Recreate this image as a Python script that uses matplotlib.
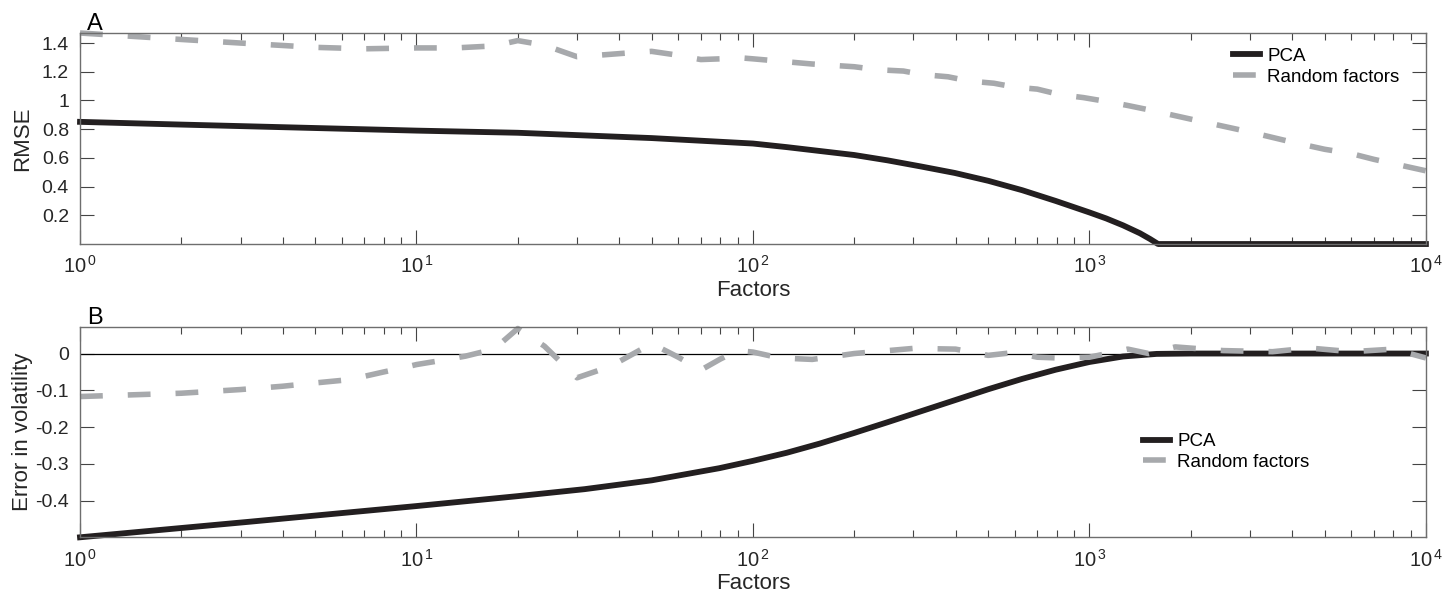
import numpy as np
import matplotlib.pyplot as plt
from matplotlib.ticker import FuncFormatter

# Panel A: RMSE vs number of factors
rmse_pca_x = [1, 2, 5, 10, 20, 50, 100, 126, 158, 200, 251, 316, 398, 501, 631,
              794, 1000, 1122, 1259, 1413, 1514, 1600, 10000]
rmse_pca = [0.851, 0.832, 0.808, 0.79, 0.775, 0.738, 0.70, 0.675, 0.648, 0.62,
            0.583, 0.54, 0.495, 0.44, 0.375, 0.30, 0.22, 0.178, 0.13, 0.075,
            0.035, 0.0, 0.0]

rmse_rand_x = [1, 2, 3, 5, 7, 10, 13, 17, 20, 24, 30, 36, 42, 50, 58, 70, 80, 93,
               100, 150, 200, 235, 280, 320, 380, 440, 520, 600, 700, 820, 960,
               1130, 1300, 1500, 2000, 3000, 4000, 5000, 6000, 7000, 8000, 10000]
rmse_rand = [1.47, 1.425, 1.40, 1.37, 1.36, 1.366, 1.366, 1.38, 1.417, 1.385,
             1.305, 1.318, 1.33, 1.342, 1.32, 1.285, 1.29, 1.296, 1.29, 1.254,
             1.235, 1.214, 1.205, 1.18, 1.165, 1.135, 1.12, 1.093, 1.079, 1.04,
             1.02, 0.992, 0.965, 0.935, 0.87, 0.78, 0.71, 0.66, 0.63, 0.59,
             0.56, 0.51]

# Panel B: error in volatility vs number of factors
vol_pca_x = [1, 3.16, 10, 20, 31.6, 50, 79.4, 100, 126, 158, 200, 251, 316, 398,
             501, 631, 794, 1000, 1259, 1585, 2000, 10000]
vol_pca = [-0.50, -0.458, -0.415, -0.388, -0.369, -0.345, -0.312, -0.292, -0.27,
           -0.245, -0.216, -0.187, -0.157, -0.127, -0.097, -0.069, -0.044,
           -0.023, -0.008, -0.001, 0.0, 0.0]

vol_rand_x = [1, 2, 3, 4, 5, 6, 7, 8, 9, 10, 12, 14, 17, 20, 24, 30, 35, 40, 50,
              60, 70, 80, 90, 100, 120, 150, 200, 300, 400, 500, 600, 700, 800,
              1000, 1300, 1500, 1800, 2500, 3500, 4500, 6000, 8000, 10000]
vol_rand = [-0.117, -0.108, -0.098, -0.089, -0.08, -0.073, -0.062, -0.05, -0.04,
            -0.03, -0.018, -0.007, 0.012, 0.068, 0.02, -0.066, -0.045, -0.022,
            0.027, -0.01, -0.045, -0.015, 0.008, 0.004, -0.012, -0.016, 0.0,
            0.014, 0.012, -0.005, 0.003, -0.01, -0.012, -0.01, 0.012, 0.0,
            0.018, 0.008, 0.005, 0.015, 0.005, 0.012, -0.012]

rmse_yticks = [0.2, 0.4, 0.6, 0.8, 1.0, 1.2, 1.4]
vol_yticks = [-0.4, -0.3, -0.2, -0.1, 0.0]
x_ticks = [1, 10, 100, 1000, 10000]

pca_color = '#231f20'
rand_color = '#a7a9ac'
axis_color = '#6e6e6e'
text_color = '#262626'

plt.rcParams['font.family'] = ['Liberation Sans', 'DejaVu Sans']
plt.rcParams['mathtext.fontset'] = 'custom'
plt.rcParams['mathtext.rm'] = 'Liberation Sans'
plt.rcParams['mathtext.it'] = 'Liberation Sans'


def pow10_label(v, pos):
    # MATLAB-like "10 ^n" with a small gap before the exponent
    return r'$\mathdefault{10^{\,%d}}$' % int(round(np.log10(v)))


def style_axes(ax, yticks, ylim, ylabel):
    ax.set_xscale('log')
    ax.set_xlim(1, 1e4)
    ax.set_xticks(x_ticks)
    ax.xaxis.set_major_formatter(FuncFormatter(pow10_label))
    ax.set_ylim(*ylim)
    ax.set_yticks(yticks)
    ax.set_yticklabels([f'{v:g}' for v in yticks])
    for s in ax.spines.values():
        s.set_color(axis_color)
        s.set_linewidth(1.0)
    ax.tick_params(which='both', direction='in', top=True, right=True,
                   color='#444444', width=0.8)
    ax.tick_params(which='major', length=10)
    ax.tick_params(which='minor', length=5)
    ax.tick_params(axis='y', labelsize=14, labelcolor=text_color, pad=8)
    ax.tick_params(axis='x', labelsize=14.5, labelcolor=text_color, pad=8)
    ax.set_xlabel('Factors', fontsize=16, color=text_color, labelpad=2)
    ax.set_ylabel(ylabel, fontsize=16, color=text_color)
    ax.yaxis.set_label_coords(-0.035, 0.5)


fig = plt.figure(figsize=(14.55, 6.0), dpi=100)

# Panel A
ax1 = fig.add_axes([0.055, 0.5933, 0.925, 0.3517])
ax1.plot(rmse_pca_x, rmse_pca, color=pca_color, lw=4.2, label='PCA',
         clip_on=False, solid_joinstyle='round')
ax1.plot(rmse_rand_x, rmse_rand, color=rand_color, lw=4.0, label='Random factors',
         linestyle=(0, (4.1, 4.5)), dash_capstyle='butt', clip_on=False)
style_axes(ax1, rmse_yticks, (0, 1.47), 'RMSE')
ax1.text(0.005, 1.015, 'A', transform=ax1.transAxes, fontsize=17, color='black')
ax1.legend(loc='upper left', bbox_to_anchor=(0.857, 0.93), frameon=False,
           fontsize=13.5, handlelength=1.4, handletextpad=0.4, borderpad=0,
           borderaxespad=0, labelspacing=0.2)

# Panel B
ax2 = fig.add_axes([0.055, 0.1045, 0.925, 0.351])
ax2.axhline(0, color='black', lw=0.9)
ax2.plot(vol_pca_x, vol_pca, color=pca_color, lw=4.2, label='PCA',
         clip_on=False, solid_joinstyle='round')
ax2.plot(vol_rand_x, vol_rand, color=rand_color, lw=4.0, label='Random factors',
         linestyle=(0, (4.1, 4.5)), dash_capstyle='butt', clip_on=False)
style_axes(ax2, vol_yticks, (-0.5, 0.073), 'Error in volatility')
ax2.text(0.005, 1.012, 'B', transform=ax2.transAxes, fontsize=17, color='black')
ax2.legend(loc='upper left', bbox_to_anchor=(0.79, 0.495), frameon=False,
           fontsize=13.5, handlelength=1.4, handletextpad=0.4, borderpad=0,
           borderaxespad=0, labelspacing=0.2)

fig.savefig('out.png', dpi=100)
